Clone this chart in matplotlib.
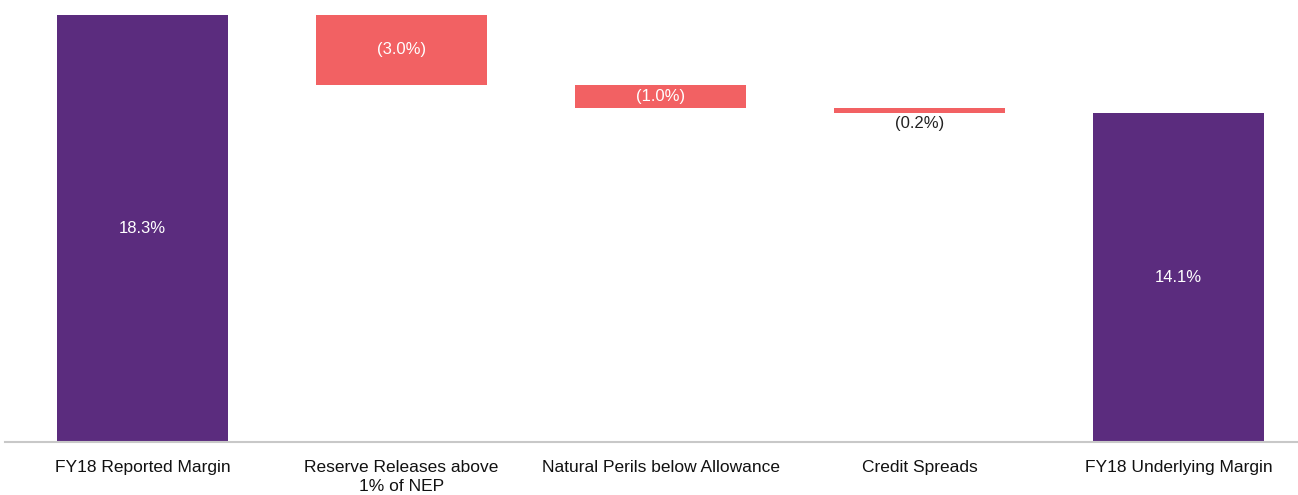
import numpy as np
import matplotlib.pyplot as plt

plt.rcParams['font.family'] = ['Liberation Sans', 'DejaVu Sans']

# waterfall data
categories = ["FY18 Reported Margin", "Reserve Releases above\n1% of NEP",
              "Natural Perils below Allowance", "Credit Spreads", "FY18 Underlying Margin"]
changes = [18.3, -3.0, -1.0, -0.2, 14.1]
is_total = [True, False, False, False, True]
value_labels = ["18.3%", "(3.0%)", "(1.0%)", "(0.2%)", "14.1%"]

purple = "#5B2C7E"
red = "#F26163"

bottoms = []
heights = []
running = 0.0
for c, tot in zip(changes, is_total):
    if tot:
        bottoms.append(0.0)
        heights.append(c)
        running = c
    else:
        bottoms.append(running + c)
        heights.append(-c)
        running = running + c

fig = plt.figure(figsize=(12.98, 4.95), dpi=100)
ax = fig.add_axes([5 / 1298, 53 / 495, 1293 / 1298, 432 / 495])

x = np.arange(len(categories))
colors = [purple if t else red for t in is_total]
ax.bar(x, heights, bottom=bottoms, width=0.66, color=colors)

for i in range(len(categories)):
    mid = bottoms[i] + heights[i] / 2
    if heights[i] < 0.5:
        ax.text(x[i], bottoms[i] - 0.12, value_labels[i], ha="center", va="top",
                fontsize=12, color="#222222")
    else:
        ax.text(x[i], mid, value_labels[i], ha="center", va="center",
                fontsize=12, color="white")

ax.set_xlim(-0.53, 4.46)
ax.set_ylim(0, 18.51)
ax.set_xticks(x)
ax.set_xticklabels(categories, fontsize=12.5, color="#111111", linespacing=1.35)
ax.tick_params(axis="x", length=0, pad=13)
ax.set_yticks([])
for s in ["top", "right", "left"]:
    ax.spines[s].set_visible(False)
ax.spines["bottom"].set_color("#C8C8C8")
ax.spines["bottom"].set_linewidth(1.5)

fig.savefig("out.png", dpi=100)
